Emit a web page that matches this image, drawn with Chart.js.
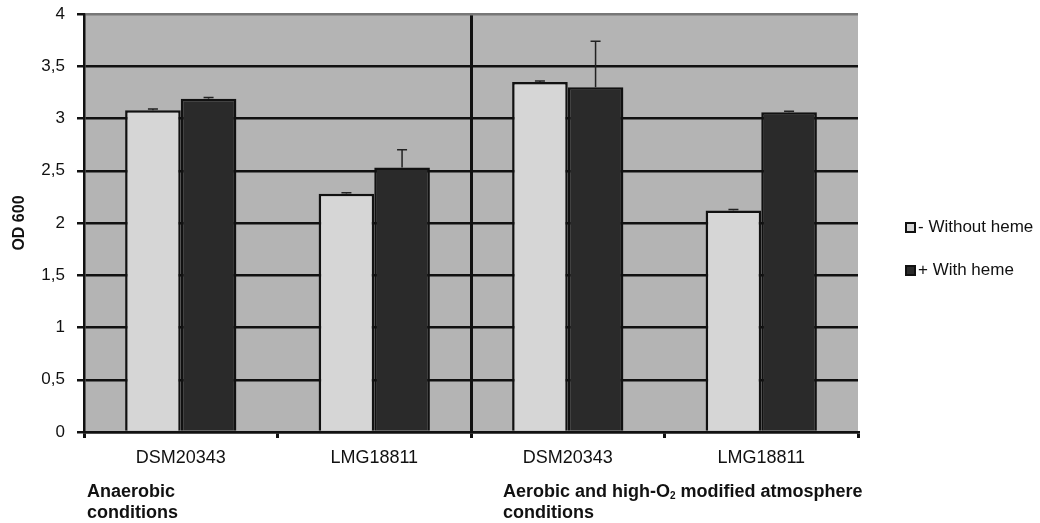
<!DOCTYPE html>
<html>
<head>
<meta charset="utf-8">
<script src="https://cdn.jsdelivr.net/npm/chart.js@4/dist/chart.umd.min.js"></script>
<style>
  body { margin: 0; background: #fff; font-family: "Liberation Sans", Arial, sans-serif; }
  #wrap { position: relative; width: 1040px; height: 523px; }
  .grp { position: absolute; font-weight: bold; font-size: 18px; line-height: 21px; color: #111; }
  .grp sub { font-size: 10px; line-height: 0; vertical-align: -2px; }
  .leg { position: absolute; left: 905px; font-size: 17px; color: #111; display: flex; align-items: center; }
  .leg .box { width: 7px; height: 7px; border: 2px solid #111; margin-right: 2px; }
</style>
</head>
<body>
<div id="wrap">
  <canvas id="chart" width="1040" height="523"></canvas>
  <div class="grp" style="left:87px; top:481px;">Anaerobic<br>conditions</div>
  <div class="grp" style="left:503px; top:481px;">Aerobic and high-O<sub>2</sub> modified atmosphere<br>conditions</div>
  <div class="leg" style="top:217px;"><span class="box" style="background:#d6d6d6"></span>- Without heme</div>
  <div class="leg" style="top:260px;"><span class="box" style="background:#2a2a2a"></span>+ With heme</div>
</div>
<script>
// data
const strains = ['DSM20343', 'LMG18811', 'DSM20343', 'LMG18811'];
const withoutHeme = [3.08, 2.28, 3.35, 2.12];
const withoutHemeErr = [0.01, 0.01, 0.01, 0.01];
const withHeme = [3.19, 2.53, 3.30, 3.06];
const withHemeErr = [0.01, 0.17, 0.44, 0.01];
const yTickLabels = ['0', '0,5', '1', '1,5', '2', '2,5', '3', '3,5', '4'];

const plotBackground = {
    id: 'plotBackground',
    beforeDraw(chart) {
        const a = chart.chartArea;
        const ctx = chart.ctx;
        ctx.save();
        ctx.fillStyle = '#b4b4b4';
        ctx.fillRect(a.left, a.top, a.right - a.left, a.bottom - a.top);
        ctx.restore();
    }
};

// upward error bars with a small cap
const errorBars = {
    id: 'errorBars',
    afterDatasetsDraw(chart) {
        const ctx = chart.ctx;
        const y = chart.scales.y;
        chart.data.datasets.forEach((ds, i) => {
            chart.getDatasetMeta(i).data.forEach((bar, j) => {
                const top = y.getPixelForValue(ds.data[j] + ds.err[j]);
                ctx.save();
                ctx.strokeStyle = '#222';
                ctx.lineWidth = 1.5;
                ctx.beginPath();
                ctx.moveTo(bar.x, bar.y);
                ctx.lineTo(bar.x, top);
                ctx.moveTo(bar.x - 5, top);
                ctx.lineTo(bar.x + 5, top);
                ctx.stroke();
                ctx.restore();
            });
        });
    }
};

new Chart(document.getElementById('chart'), {
    type: 'bar',
    data: {
        labels: strains,
        datasets: [
            {
                label: '- Without heme',
                data: withoutHeme,
                err: withoutHemeErr,
                backgroundColor: '#d6d6d6',
                borderColor: '#111',
                borderWidth: 2.5
            },
            {
                label: '+ With heme',
                data: withHeme,
                err: withHemeErr,
                backgroundColor: '#2a2a2a',
                borderColor: '#111',
                borderWidth: 2.5
            }
        ]
    },
    options: {
        responsive: false,
        animation: false,
        layout: { padding: { top: 14, right: 182, left: 0, bottom: 0 } },
        datasets: { bar: { categoryPercentage: 0.575, barPercentage: 1 } },
        plugins: { legend: { display: false }, tooltip: { enabled: false } },
        scales: {
            x: {
                afterFit: s => { s.height = 91; },
                grid: {
                    offset: true,
                    color: c => c.index === 2 ? '#111' : (c.index === 4 ? '#777' : 'rgba(0,0,0,0)'),
                    lineWidth: 3,
                    tickColor: '#111',
                    tickLength: 6
                },
                border: { color: '#111', width: 2.5 },
                ticks: { color: '#111', padding: 9, font: { family: '"Liberation Sans", Arial', size: 18 } }
            },
            y: {
                min: 0,
                max: 4,
                afterFit: s => { s.width = 84; s.paddingTop = 0; },
                grid: {
                    color: c => c.tick && c.tick.value === 4 ? '#777' : '#111',
                    lineWidth: 2.5,
                    tickColor: '#111',
                    tickLength: 7
                },
                border: { color: '#111', width: 2.5 },
                ticks: {
                    stepSize: 0.5,
                    color: '#111',
                    padding: 12,
                    font: { family: '"Liberation Sans", Arial', size: 17, lineHeight: 0.8 },
                    callback: (v, i) => yTickLabels[i]
                },
                title: {
                    display: true,
                    text: 'OD 600',
                    color: '#111',
                    padding: { top: 10, bottom: 0 },
                    font: { family: '"Liberation Sans", Arial', size: 16, weight: 'bold' }
                }
            }
        }
    },
    plugins: [plotBackground, errorBars]
});
</script>
</body>
</html>
